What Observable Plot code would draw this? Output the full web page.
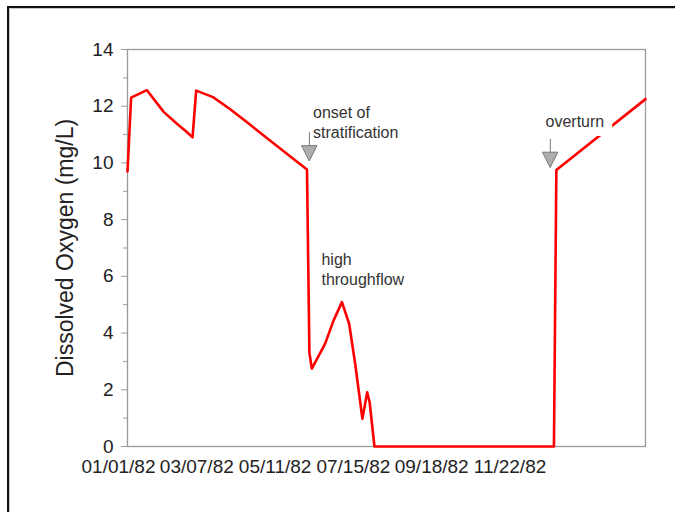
<!DOCTYPE html>
<html>
<head>
<meta charset="utf-8">
<script src="https://cdn.jsdelivr.net/npm/d3@7"></script>
<script src="https://cdn.jsdelivr.net/npm/@observablehq/plot@0.6"></script>
<style>
  html, body { margin: 0; padding: 0; background: #fff; overflow: hidden; }
  #wrap { position: relative; width: 675px; height: 512px; overflow: hidden; font-family: Arial, "Liberation Sans", sans-serif; }
  #border { position: absolute; left: 7px; top: 6px; width: 720px; height: 560px;
            border-top: 2px solid #111; border-left: 2px solid #111;
            box-shadow: inset 1px 1px 0 #c8c8c8; }
  #chart { position: absolute; left: 0; top: 0; }
</style>
</head>
<body>
<div id="wrap"><div id="border"></div><div id="chart"></div></div>
<script>
// Dissolved oxygen record, 1982 – early 1983
const dates = [
  "1982-01-01", "1982-01-04", "1982-01-17", "1982-01-31", "1982-02-11", "1982-02-19",
  "1982-02-24", "1982-02-27", "1982-03-13", "1982-03-27", "1982-04-10", "1982-04-24",
  "1982-05-08", "1982-05-22", "1982-05-30", "1982-06-01", "1982-06-03", "1982-06-14",
  "1982-06-21", "1982-06-28", "1982-07-04", "1982-07-09", "1982-07-15", "1982-07-19",
  "1982-07-21", "1982-07-25", "1982-12-21", "1982-12-23", "1983-03-07"
];
const oxygen = [
  9.7, 12.3, 12.57, 11.8, 11.38, 11.1,
  10.9, 12.55, 12.32, 11.9, 11.44, 10.97,
  10.5, 10.03, 9.77, 3.3, 2.75, 3.62,
  4.44, 5.09, 4.33, 2.92, 0.98, 1.91,
  1.56, 0, 0, 9.75, 12.25
];

// Axis ticks
const xTickDates = ["1982-01-01", "1982-03-07", "1982-05-11", "1982-07-15", "1982-09-18", "1982-11-22"];
const xTickLabels = ["01/01/82", "03/07/82", "05/11/82", "07/15/82", "09/18/82", "11/22/82"];
const yTicks = [0, 2, 4, 6, 8, 10, 12, 14];
const yMinorTicks = [1, 3, 5, 7, 9, 11, 13];
const xDomain = ["1982-01-01", "1983-03-07"];
const yTitle = "Dissolved Oxygen (mg/L)";

// Event arrows (tip position) and annotation labels (left/baseline position)
const arrowDates = ["1982-06-01", "1982-12-18"];
const arrowValues = [10.08, 9.85];
const noteTexts = ["onset of\nstratification", "high\nthroughflow", "overturn"];
const noteDates = ["1982-06-04", "1982-06-11", "1982-12-14"];
const noteValues = [10.87, 5.68, 11.26];

const parse = (s) => new Date(s);
const series = dates.map((d, i) => ({date: parse(d), value: oxygen[i]}));
const arrows = arrowDates.map((d, i) => ({date: parse(d), value: arrowValues[i]}));
const notes = noteTexts.map((t, i) => ({date: parse(noteDates[i]), value: noteValues[i], text: t}));
const labelByTime = new Map(xTickDates.map((d, i) => [+parse(d), xTickLabels[i]]));

// Downward arrow: stem plus filled triangular head, tip at the anchor
const arrowShape = {
  draw(context, l) {
    const h = 15, w = 7.5;
    context.moveTo(0, -l);
    context.lineTo(0, -h);
    context.moveTo(-w, -h);
    context.lineTo(w, -h);
    context.lineTo(0, 0);
    context.closePath();
  }
};

const font = 'Arial, "Liberation Sans", sans-serif';

const chart = Plot.plot({
  width: 675,
  height: 512,
  marginLeft: 127,
  marginRight: 30,
  marginTop: 49,
  marginBottom: 66,
  style: {background: "transparent", fontFamily: font, overflow: "visible"},
  x: {type: "utc", domain: xDomain.map(parse)},
  y: {domain: [0, 14]},
  marks: [
    Plot.frame({stroke: "#9a9a9a", strokeWidth: 1.3}),
    Plot.axisY(yMinorTicks, {tickSize: 4, text: null, stroke: "#9a9a9a", label: null}),
    Plot.axisY(yTicks, {tickSize: 6, tickPadding: 8, fontSize: 19, stroke: "#9a9a9a", fill: "#222", label: null}),
    Plot.axisX(xTickDates.map(parse), {
      tickSize: 0, tickPadding: 13, fontSize: 19, dx: -9, fill: "#222", label: null,
      tickFormat: (d) => labelByTime.get(+d)
    }),
    Plot.text([yTitle], {
      text: (d) => d, frameAnchor: "left", textAnchor: "middle", rotate: -90,
      dx: -62, fontSize: 23, fill: "#222"
    }),
    Plot.line(series, {x: "date", y: "value", stroke: "#ff0000", strokeWidth: 2.6, strokeLinejoin: "round"}),
    Plot.text(notes.slice(2), {
      x: "date", y: "value", text: "text", textAnchor: "start", lineAnchor: "bottom",
      fontSize: 16, fill: "#333", stroke: "white", strokeWidth: 18
    }),
    Plot.text(notes.slice(0, 2), {
      x: "date", y: "value", text: "text", textAnchor: "start", lineAnchor: "bottom",
      lineHeight: 1.25, fontSize: 16, fill: "#333"
    }),
    Plot.vector(arrows, {
      x: "date", y: "value", length: 28, anchor: "start", shape: arrowShape,
      stroke: "#777", fill: "#adadad", strokeWidth: 1
    })
  ]
});

document.getElementById("chart").appendChild(chart);
</script>
</body>
</html>
